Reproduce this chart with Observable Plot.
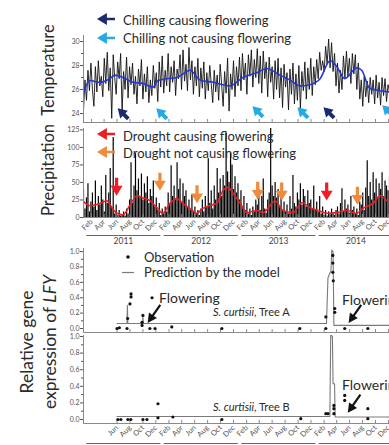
<!DOCTYPE html>
<html><head><meta charset="utf-8">
<script src="https://cdn.jsdelivr.net/npm/d3@7"></script>
<script src="https://cdn.jsdelivr.net/npm/@observablehq/plot@0.6"></script>
<style>
body{margin:0;background:#fff;}
#fig{position:relative;width:389px;height:445px;overflow:hidden;font-family:Lato,"Open Sans",sans-serif;}
#fig > svg{position:absolute;left:0;}
</style></head><body><div id="fig"></div>
<script>
// ---------------- data ----------------
const years = [2011, 2012, 2013, 2014];
const tickMonths = ["Feb","Apr","Jun","Aug","Oct","Dec"];
const geneTicksFrom = "2011-06-01";
const weekStart = "2010-12-25";

// weekly temperature (°C)
const tempWeekly = [
24.3,26.8,25.1,27.6,25.9,28.2,26.0,24.6,27.9,25.8,28.4,26.3,27.1,
25.4,28.6,26.5,29.1,25.9,27.8,23.6,28.9,27.0,25.6,28.3,26.9,29.0,
24.1,27.5,26.0,28.7,25.3,27.9,26.4,28.2,25.6,27.1,24.8,27.7,26.3,
28.5,25.2,27.3,25.8,27.9,24.9,26.8,25.5,28.0,26.1,27.4,25.0,28.3,
26.2,28.8,25.7,27.6,26.3,29.0,25.8,27.9,26.6,28.4,25.5,27.7,26.9,
28.9,26.0,29.3,26.7,28.1,25.9,29.5,26.8,28.4,25.6,27.9,26.3,28.6,
25.4,27.8,26.1,28.3,25.2,27.4,25.9,28.0,26.5,24.9,27.6,25.8,27.2,
25.1,28.1,26.4,24.6,27.5,25.7,28.6,24.2,27.3,26.0,28.4,25.4,27.9,
26.3,28.7,25.9,29.0,26.8,28.2,25.6,28.9,27.1,29.3,26.2,28.5,27.0,
29.4,26.5,28.8,25.7,29.2,26.9,28.3,25.4,28.7,26.6,27.9,25.2,28.4,
26.0,28.6,25.3,27.8,24.5,28.1,26.2,27.4,24.3,27.7,25.6,28.2,24.8,
27.3,25.1,28.0,24.4,27.5,25.9,28.3,25.2,27.8,26.0,28.6,25.5,27.9,
26.4,28.5,26.9,29.1,27.6,28.4,27.5,29.6,28.1,30.2,27.8,29.9,27.5,
29.0,26.3,28.2,25.7,27.6,26.0,28.8,26.9,29.2,27.1,28.6,26.5,29.0,
27.3,28.9,26.0,28.2,25.2,26.8,24.6,27.1,25.4,26.7,24.9,27.0,25.6,
26.8,24.8,27.2,25.3,26.6,24.7,27.0,25.5,26.9,25.0,26.4,25.8,26.2];

const tempSmoothDates = ["2010-12-23","2011-01-24","2011-03-12","2011-04-28","2011-05-22","2011-06-29","2011-08-15","2011-10-01","2011-11-17","2011-12-11","2012-01-22","2012-03-10","2012-05-10","2012-06-26","2012-08-26","2012-11-14","2013-01-14","2013-03-21","2013-05-07","2013-07-07","2013-08-23","2013-10-09","2013-11-25","2014-01-13","2014-03-01","2014-04-02","2014-05-09","2014-07-05","2014-07-28","2014-09-04","2014-10-21","2014-12-03"];
const tempSmoothValues = [25.6,26.75,26.6,26.9,27.2,27.0,26.6,26.5,26.2,26.75,26.9,27.0,27.6,26.8,26.6,26.3,27.0,27.4,27.75,27.2,26.8,26.3,26.4,26.9,28.4,27.9,26.9,27.8,27.6,26.1,25.9,25.8];

// weekly precipitation (mm)
const precipWeekly = [
40,12,28,48,8,22,35,15,52,10,30,18,45,
25,8,60,20,35,70,14,114,5,18,3,10,2,
4,8,2,12,5,25,78,20,45,91,38,55,30,
62,25,48,35,58,20,40,30,52,15,28,10,20,
3,12,5,15,8,35,20,74,30,45,25,78,40,
55,22,48,30,38,15,25,10,32,8,15,4,10,
3,12,25,8,30,15,84,20,38,12,45,25,70,
35,55,30,60,45,120,65,50,91,75,40,58,35,
48,25,38,15,30,10,20,5,12,3,15,8,25,
18,40,10,30,55,12,6,25,35,128,45,30,50,
28,40,15,32,10,22,8,18,5,30,12,60,20,
15,35,25,48,18,40,30,15,38,20,25,12,45,
10,22,8,30,5,15,3,10,2,8,4,12,6,
3,10,15,5,20,41,8,25,12,18,6,30,10,
15,5,12,3,22,18,35,10,42,81,30,50,25,
64,35,55,28,48,40,64,30,52,45,38,58,35];

const precipSmoothDates = ["2010-12-22","2011-01-24","2011-03-12","2011-04-14","2011-05-08","2011-05-31","2011-06-29","2011-07-31","2011-09-03","2011-10-01","2011-11-03","2011-12-06","2012-01-03","2012-02-05","2012-03-09","2012-04-06","2012-05-09","2012-06-11","2012-07-09","2012-08-11","2012-09-13","2012-10-11","2012-11-04","2012-12-07","2012-12-31","2013-02-02","2013-03-21","2013-04-19","2013-05-22","2013-06-14","2013-07-22","2013-09-07","2013-10-20","2013-11-27","2014-01-03","2014-02-14","2014-04-02","2014-05-19","2014-07-06","2014-08-03","2014-09-19","2014-10-22","2014-11-24"];
const precipSmoothValues = [24,17,20,24,14,6,4,17,31,28,24,14,6,20,27,20,13,6,13,17,20,38,43,31,21,7,10,7,17,24,10,7,21,14,10,6,7,10,6,13,20,31,24];

const chillCausingDates = ["2011-06-29","2014-02-23"];
const chillCausingTemp = [24.0,24.08];
const chillNotDates = ["2011-12-28","2013-03-25","2013-10-23","2014-11-27"];
const chillNotTemp = [24.0,24.17,24.08,24.25];
const droughtCausingDates = ["2011-05-30","2014-02-13"];
const droughtCausingPrecip = [44,37];
const droughtNotDates = ["2011-12-20","2012-06-12","2013-03-25","2013-07-16","2014-07-08"];
const droughtNotPrecip = [51,33,38,37,31];

// relative LFY expression, tree A
const obsADates = ["2011-06-01","2011-06-12","2011-07-18","2011-07-21","2011-08-01","2011-08-06","2011-08-06","2011-09-27","2011-09-27","2011-10-01","2011-11-03","2011-11-13","2011-11-27","2012-02-14","2012-10-07","2013-10-09","2014-02-09","2014-02-09","2014-03-14","2014-03-14","2014-03-14","2014-03-16","2014-03-23","2014-03-23","2014-05-09","2014-08-26"];
const obsAValues = [0.00,0.01,0.00,0.13,0.32,0.45,0.41,0.04,0.08,0.17,0.00,0.40,0.00,0.02,0.00,0.00,0.00,0.15,0.95,0.85,0.73,0.62,0.26,0.21,0.00,0.00];
const predADates = ["2011-06-01","2011-07-18","2011-07-20","2011-07-22","2011-09-29","2011-10-01","2011-10-03","2014-02-12","2014-02-19","2014-03-05","2014-03-09","2014-03-15","2014-03-19","2014-12-10"];
const predAValues = [0.065,0.065,0.30,0.065,0.065,0.15,0.065,0.065,0.66,0.75,1.02,1.0,0.04,0.04];
// tree B
const obsBDates = ["2011-06-05","2011-06-19","2011-07-22","2011-08-05","2011-10-01","2011-10-20","2011-12-11","2011-12-11","2012-02-19","2012-10-07","2013-10-14","2014-02-09","2014-02-19","2014-03-19","2014-03-19","2014-03-19","2014-05-09","2014-05-09","2014-08-26","2014-08-26"];
const obsBValues = [0.00,0.00,0.00,0.00,0.00,0.00,0.19,0.02,0.03,0.00,0.01,0.07,0.07,0.17,0.13,0.07,0.29,0.23,0.13,0.01];
const predBDates = ["2011-06-01","2014-02-28","2014-03-04","2014-03-12","2014-03-15","2014-03-22","2014-03-25","2014-12-10"];
const predBValues = [0.036,0.036,1.02,1.0,0.43,0.43,0.03,0.03];

// ---------------- helpers ----------------
const DAY = 864e5;
const D = s => new Date(s);
const monthNames = ["Jan","Feb","Mar","Apr","May","Jun","Jul","Aug","Sep","Oct","Nov","Dec"];
const xDomain = [D("2010-12-25"), D("2014-12-06")];
const monthTicks = years.flatMap(y => tickMonths.map(m => new Date(Date.UTC(y, monthNames.indexOf(m), 1))));
const geneTicks = monthTicks.filter(d => d >= D(geneTicksFrom));
const zip = (ds, vs) => ds.map((d, i) => ({date: D(d), value: vs[i]}));
const tempRows = tempWeekly.map((v, i) => ({date: new Date(Date.parse(weekStart) + 7 * i * DAY), value: v}));
const precipRows = precipWeekly.map((v, i) => ({date: new Date(Date.parse(weekStart) + 7 * i * DAY), value: v}));

function arrowPoints(L, angle, hr, wr, tr) {
  const h = hr * L, w = wr * L, t = tr * L, a = L / 2;
  const pts = [[a,0],[a-h,w],[a-h,t],[-a,t],[-a,-t],[a-h,-t],[a-h,-w]];
  const th = angle * Math.PI / 180, c = Math.cos(th), s = Math.sin(th);
  return pts.map(([x, y]) => [x * c - y * s, x * s + y * c]);
}
function arrowSymbol(angle, hr, wr, tr) {
  return {draw(ctx, size) {
    const r = Math.sqrt(size / Math.PI);
    const p = arrowPoints(2 * r, angle, hr, wr, tr);
    ctx.moveTo(p[0][0], p[0][1]);
    for (let i = 1; i < p.length; i++) ctx.lineTo(p[i][0], p[i][1]);
    ctx.closePath();
  }};
}
const cursorSym = arrowSymbol(-135, 0.6, 0.36, 0.13);
const downSym = arrowSymbol(90, 0.55, 0.33, 0.09);
const flowerSym = arrowSymbol(125, 0.42, 0.22, 0.05);

const AX = "#8a8a8a", LAB = "#555";
const base = {width: 389, marginLeft: 83, marginRight: 0,
  style: {background: "none", overflow: "visible", fontFamily: "Lato, sans-serif"}};
const xOpt = {type: "utc", domain: xDomain, axis: null};
function frameMarks(y0, y1, ticks) {
  const tk = (y1 - y0) * 0.035;
  return [
    Plot.ruleX([xDomain[0]], {y1: y0, y2: y1, stroke: AX}),
    Plot.ruleY([y0], {stroke: AX}),
    Plot.ruleX(ticks, {x: d => d, y1: y0, y2: y0 + tk, stroke: AX})
  ];
}
function place(svg, top) { svg.style.top = top + "px"; return svg; }
const fig = document.getElementById("fig");

// ---------------- temperature ----------------
const tY = [23.25, 30.5];
fig.appendChild(place(Plot.plot({...base, height: 125, marginTop: 35, marginBottom: 3,
  x: xOpt, y: {domain: tY, axis: null},
  marks: [
    Plot.line(tempRows, {x: "date", y: "value", stroke: "#111", strokeWidth: 0.9, clip: true}),
    Plot.line(zip(tempSmoothDates, tempSmoothValues), {x: "date", y: "value", stroke: "#2436d4", strokeWidth: 1.6, curve: "monotone-x", clip: true}),
    ...frameMarks(tY[0], tY[1], monthTicks),
    Plot.axisY({ticks: [24,26,28,30], tickSize: 3, tickPadding: 1, fontSize: 7, color: LAB, label: null}),
    Plot.axisY({ticks: [25,27,29], tickSize: 2, tickFormat: () => "", color: LAB, label: null}),
    Plot.dot(zip(chillCausingDates, chillCausingTemp), {x: "date", y: "value", r: 7.5, symbol: cursorSym, fill: "#1c2a6e", stroke: null}),
    Plot.dot(zip(chillNotDates, chillNotTemp), {x: "date", y: "value", r: 7.5, symbol: cursorSym, fill: "#24abe6", stroke: null})
  ]}), 0));

// ---------------- precipitation ----------------
const pY = [0, 127];
fig.appendChild(place(Plot.plot({...base, height: 123, marginTop: 6, marginBottom: 28,
  x: xOpt, y: {domain: pY, axis: null},
  marks: [
    Plot.ruleX(precipRows, {x: "date", y1: 0, y2: "value", stroke: "#000", strokeWidth: 1.2, clip: true}),
    Plot.line(zip(precipSmoothDates, precipSmoothValues), {x: "date", y: "value", stroke: "#ee1c25", strokeWidth: 1.6, curve: "monotone-x", clip: true}),
    ...frameMarks(pY[0], pY[1], monthTicks),
    Plot.axisY({ticks: [0,25,50,75,100,125], tickSize: 3, tickPadding: 1, fontSize: 7, color: LAB, label: null}),
    Plot.axisX({ticks: monthTicks, tickFormat: d3.utcFormat("%b"), tickRotate: -45, tickSize: 0, tickPadding: 3, fontSize: 7.5, color: LAB, label: null}),
    Plot.ruleY(years, {x1: d => new Date(Date.UTC(d,0,9)), x2: d => new Date(Date.UTC(d,11,24)), y: () => 0, dy: 18, stroke: "#666"}),
    Plot.text(years, {x: d => new Date(Date.UTC(d,6,1)), y: () => 0, dy: 24, text: d => String(d), fontSize: 8.5, fill: "#444"}),
    Plot.dot(zip(droughtCausingDates, droughtCausingPrecip), {x: "date", y: "value", r: 9, symbol: downSym, fill: "#ee1c25", stroke: null}),
    Plot.dot(zip(droughtNotDates, droughtNotPrecip), {x: "date", y: "value", r: 9, symbol: downSym, fill: "#f08a3c", stroke: null})
  ]}), 122));

// ---------------- gene expression A ----------------
const aY = [-0.052, 1.04];
const geneAxis = [
  Plot.axisY({ticks: [0,0.2,0.4,0.6,0.8,1.0], tickFormat: ".1f", tickSize: 3, tickPadding: 1, fontSize: 7, color: LAB, label: null}),
  Plot.axisY({ticks: [0.1,0.3,0.5,0.7,0.9], tickSize: 2, tickFormat: () => "", color: LAB, label: null})
];
fig.appendChild(place(Plot.plot({...base, height: 89, marginTop: 3, marginBottom: 2,
  x: xOpt, y: {domain: aY, axis: null},
  marks: [
    ...frameMarks(aY[0], aY[1], geneTicks),
    ...geneAxis,
    Plot.line(zip(predADates, predAValues), {x: "date", y: "value", stroke: "#7a7a7a", strokeWidth: 1.1, clip: true}),
    Plot.dot(zip(obsADates, obsAValues), {x: "date", y: "value", r: 1.6, fill: "#111", stroke: null}),
    Plot.dot([{date: D("2011-11-22"), value: 0.19}, {date: D("2014-06-26"), value: 0.19}], {x: "date", y: "value", r: 11, symbol: flowerSym, fill: "#111", stroke: null})
  ]}), 245));

// ---------------- gene expression B ----------------
const bY = [-0.048, 1.012];
fig.appendChild(place(Plot.plot({...base, height: 112, marginTop: 2, marginBottom: 22,
  x: xOpt, y: {domain: bY, axis: null},
  marks: [
    ...frameMarks(bY[0], bY[1], geneTicks),
    ...geneAxis,
    Plot.line(zip(predBDates, predBValues), {x: "date", y: "value", stroke: "#7a7a7a", strokeWidth: 1.1, clip: true}),
    Plot.dot(zip(obsBDates, obsBValues), {x: "date", y: "value", r: 1.6, fill: "#111", stroke: null}),
    Plot.dot([{date: D("2014-06-22"), value: 0.19}], {x: "date", y: "value", r: 11, symbol: flowerSym, fill: "#111", stroke: null}),
    Plot.axisX({ticks: geneTicks, tickFormat: d3.utcFormat("%b"), tickRotate: -45, tickSize: 0, tickPadding: 3, fontSize: 7.5, color: LAB, label: null}),
    Plot.ruleY(years, {x1: d => new Date(Date.UTC(d,0,9)), x2: d => new Date(Date.UTC(d,11,24)), y: () => bY[0], dy: 20, stroke: "#666"})
  ]}), 333));

// ---------------- annotations overlay ----------------
const ns = "http://www.w3.org/2000/svg";
const ov = document.createElementNS(ns, "svg");
ov.setAttribute("width", 389); ov.setAttribute("height", 445);
ov.style.top = "0px"; ov.style.pointerEvents = "none";
const pathOf = (cx, cy, pts) => "M" + pts.map(([x, y]) => (cx + x).toFixed(2) + "," + (cy + y).toFixed(2)).join("L") + "Z";
const legArrow = arrowPoints(18, 180, 0.55, 0.33, 0.07);
ov.innerHTML = `
<g font-family="Lato, sans-serif" fill="#2a2a2a">
  <path d="${pathOf(106, 19, legArrow)}" fill="#1c2a6e"/>
  <path d="${pathOf(106, 38, legArrow)}" fill="#24abe6"/>
  <path d="${pathOf(106, 134, legArrow)}" fill="#ee1c25"/>
  <path d="${pathOf(106, 152, legArrow)}" fill="#f08a3c"/>
  <text x="123" y="25" font-size="13">Chilling causing flowering</text>
  <text x="123" y="43" font-size="13">Chilling not causing flowering</text>
  <text x="123" y="141" font-size="13">Drought causing flowering</text>
  <text x="123" y="158" font-size="13">Drought not causing flowering</text>
  <text transform="translate(54,70) rotate(-90)" text-anchor="middle" font-size="16.5">Temperature</text>
  <text transform="translate(54,170) rotate(-90)" text-anchor="middle" font-size="16.5">Precipitation</text>
  <text transform="translate(33,342) rotate(-90)" text-anchor="middle" font-size="17.5">Relative gene</text>
  <text transform="translate(56,342) rotate(-90)" text-anchor="middle" font-size="17.5">expression of <tspan font-style="italic">LFY</tspan></text>
  <circle cx="128" cy="257" r="1.8" fill="#111"/>
  <text x="144" y="262" font-size="13">Observation</text>
  <line x1="122" x2="134" y1="272.5" y2="272.5" stroke="#777" stroke-width="1.2"/>
  <text x="144" y="277" font-size="13">Prediction by the model</text>
  <text x="159" y="303" font-size="14">Flowering</text>
  <text x="342" y="305" font-size="14">Flowering</text>
  <text x="342" y="390" font-size="14">Flowering</text>
  <text x="213" y="316" font-size="11"><tspan font-style="italic">S. curtisii</tspan>, Tree A</text>
  <text x="213" y="411" font-size="11"><tspan font-style="italic">S. curtisii</tspan>, Tree B</text>
</g>`;
fig.appendChild(ov);
</script></body></html>
